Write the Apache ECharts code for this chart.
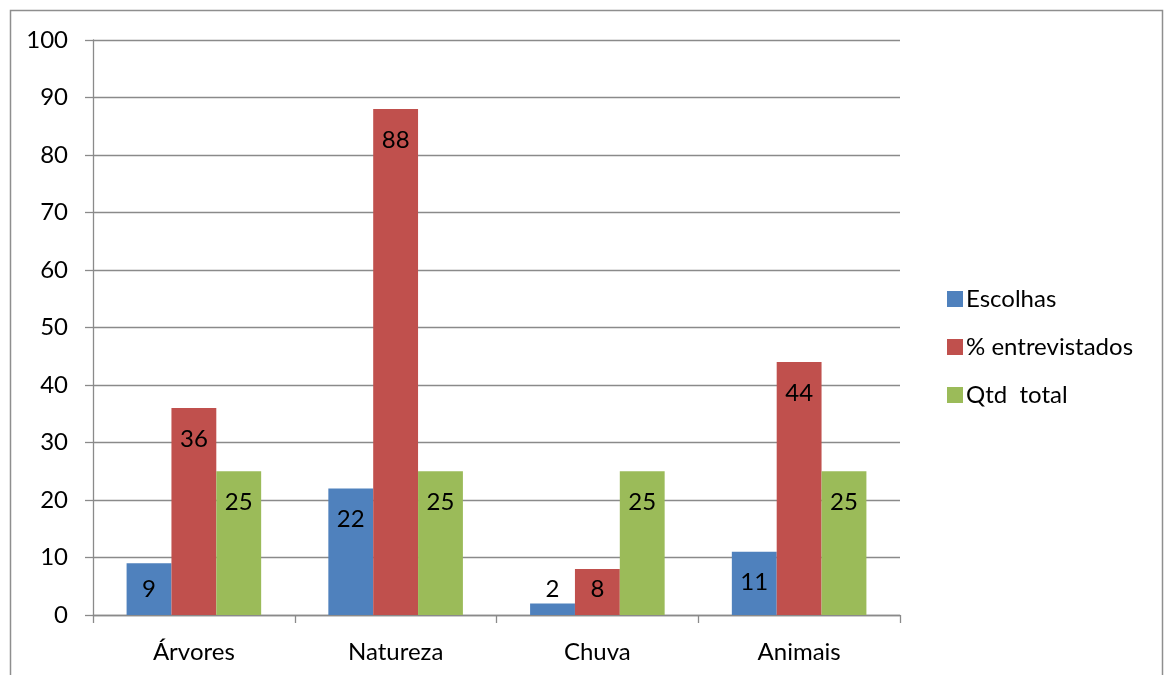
<!DOCTYPE html>
<html>
<head>
<meta charset="utf-8">
<script src="https://cdn.jsdelivr.net/npm/echarts@6/dist/echarts.min.js"></script>
<style>
html,body{margin:0;padding:0;background:#fff;}
#c{width:1168px;height:675px;}
</style>
</head>
<body>
<div id="c"></div>
<script>
var categories = ['Árvores', 'Natureza', 'Chuva', 'Animais'];
var escolhas = [9, 22, 2, 11];
var entrevistados = [36, 88, 8, 44];
var qtdTotal = [25, 25, 25, 25];
var seriesNames = ['Escolhas', '% entrevistados', 'Qtd  total'];
var yTicks = [0, 10, 20, 30, 40, 50, 60, 70, 80, 90, 100];

var FONT = 'Lato';
var FS = 24;
var GRAY = '#8a8a8a';

function items(vals) {
  return vals.map(function (v) {
    var small = v < 10;
    return {
      value: v,
      label: small ? { position: 'insideBottom', distance: 14 } : { position: 'insideTop', distance: 19 }
    };
  });
}

var chart = echarts.init(document.getElementById('c'), null, { renderer: 'canvas' });
var labelStyle = { show: true, color: '#000', fontFamily: FONT, fontSize: FS, lineHeight: 24 };
chart.setOption({
  animation: false,
  backgroundColor: '#fff',
  textStyle: { fontFamily: FONT },
  graphic: [{
    type: 'rect',
    shape: { x: 10.5, y: 10.5, width: 1152, height: 720 },
    style: { fill: 'none', stroke: '#8e8e8e', lineWidth: 1.5 },
    silent: true
  }],
  grid: { left: 93, right: 268, top: 40, bottom: 60, containLabel: false },
  legend: {
    orient: 'vertical',
    left: 942,
    top: 282,
    icon: 'rect',
    itemWidth: 16,
    itemHeight: 16,
    itemGap: 24,
    textStyle: { color: '#000', fontFamily: FONT, fontSize: FS, lineHeight: 24, padding: [0, 0, 0, -2] },
    data: seriesNames
  },
  xAxis: {
    type: 'category',
    data: categories,
    boundaryGap: true,
    axisLine: { show: true, lineStyle: { color: GRAY, width: 1.3 } },
    axisTick: { show: true, length: 8, inside: false, lineStyle: { color: GRAY, width: 1.3 } },
    axisLabel: { color: '#000', fontFamily: FONT, fontSize: FS, margin: 25 },
    splitLine: { show: false }
  },
  yAxis: {
    type: 'value',
    min: yTicks[0],
    max: yTicks[yTicks.length - 1],
    interval: yTicks[1] - yTicks[0],
    axisLine: { show: true, lineStyle: { color: GRAY, width: 1.3 } },
    axisTick: { show: true, length: 8, lineStyle: { color: GRAY, width: 1.3 } },
    axisLabel: { color: '#000', fontFamily: FONT, fontSize: FS, margin: 25 },
    splitLine: { show: true, lineStyle: { color: GRAY, width: 1.3 } }
  },
  series: [
    { name: seriesNames[0], type: 'bar', data: items(escolhas), itemStyle: { color: '#4F81BD' },
      barGap: '0%', barCategoryGap: '33.3%', label: labelStyle },
    { name: seriesNames[1], type: 'bar', data: items(entrevistados), itemStyle: { color: '#C0504D' },
      barGap: '0%', barCategoryGap: '33.3%', label: labelStyle },
    { name: seriesNames[2], type: 'bar', data: items(qtdTotal), itemStyle: { color: '#9BBB59' },
      barGap: '0%', barCategoryGap: '33.3%', label: labelStyle }
  ]
});
</script>
</body>
</html>
